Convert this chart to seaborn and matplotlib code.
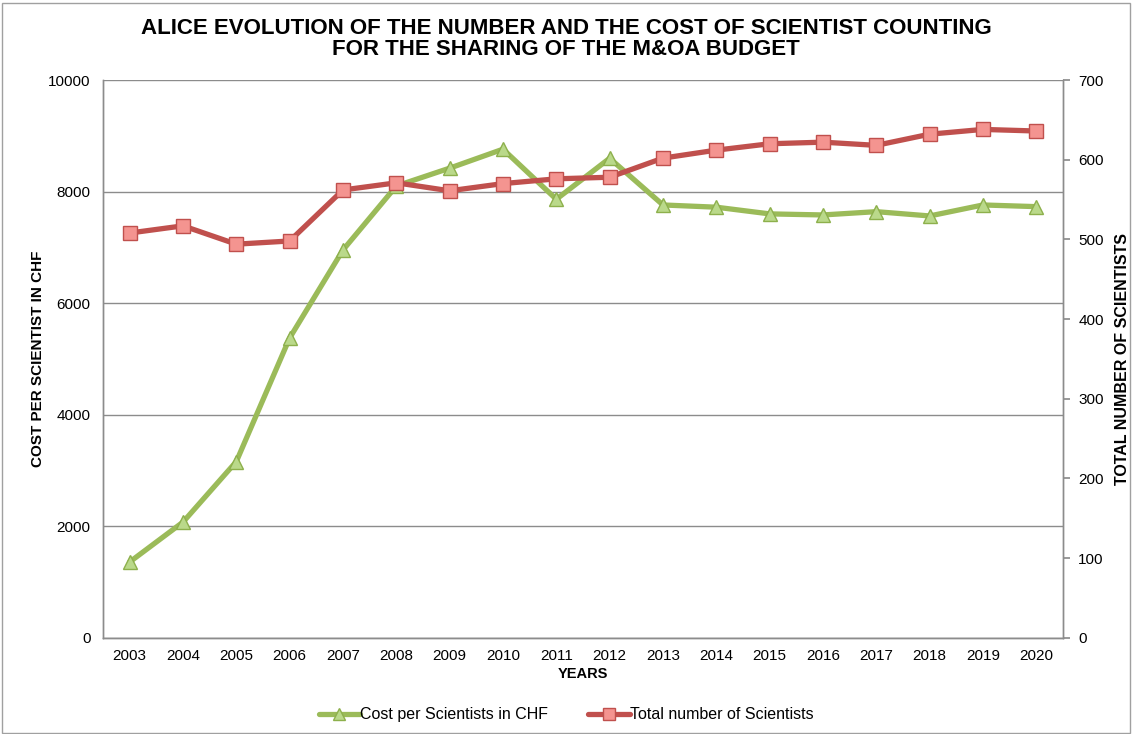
import pandas as pd
import matplotlib.pyplot as plt
import seaborn as sns
from matplotlib.patches import Rectangle

# Data
years = [str(y) for y in range(2003, 2021)]
cost_per_scientist = [1360, 2075, 3160, 5376, 6953, 8100, 8420, 8760, 7862, 8597,
                      7760, 7720, 7600, 7581, 7640, 7563, 7760, 7730]
total_scientists = [508, 517, 494, 498, 562, 571, 561, 570, 576, 578,
                    602, 612, 620, 622, 618, 632, 638, 636]

df = pd.DataFrame({'YEAR': years, 'COST': cost_per_scientist, 'N': total_scientists})

sns.set_theme(style="white")
plt.rcParams['font.family'] = ['Liberation Sans', 'DejaVu Sans']
plt.rcParams['text.color'] = 'black'
plt.rcParams['axes.labelcolor'] = 'black'

fig = plt.figure(figsize=(11.32, 7.34), dpi=100)
ax = fig.add_axes([0.091, 0.131, 0.848, 0.760])
ax2 = ax.twinx()

green = '#9BBB59'
red = '#C0504D'

sns.lineplot(data=df, x='YEAR', y='COST', ax=ax, color=green, linewidth=3.8,
             marker='^', markersize=10, markerfacecolor='#BAD98A',
             markeredgecolor='#8DB04C', markeredgewidth=1,
             label='Cost per Scientists in CHF', legend=False)
sns.lineplot(data=df, x='YEAR', y='N', ax=ax2, color=red, linewidth=3.8,
             marker='s', markersize=10, markerfacecolor='#F49490',
             markeredgecolor='#C0504D', markeredgewidth=1,
             label='Total number of Scientists', legend=False)

ax.set_xlim(-0.5, len(years) - 0.5)
ax.set_ylim(0, 10000)
ax2.set_ylim(0, 700)
ax.set_yticks(range(0, 10001, 2000))
ax2.set_yticks(range(0, 701, 100))

ax.yaxis.grid(True, color='#8C8C8C', linewidth=1)
ax.set_axisbelow(True)
for a in (ax, ax2):
    for s in a.spines.values():
        s.set_color('#8C8C8C')
        s.set_linewidth(1)
ax2.spines['top'].set_visible(False)
ax.spines['top'].set_visible(False)

ax.tick_params(axis='y', length=0, labelsize=11, pad=9, labelcolor='black')
ax.tick_params(axis='x', length=0, labelsize=11, pad=8, labelcolor='black')
ax2.tick_params(axis='y', length=5, direction='out', color='#8C8C8C',
                labelsize=11, pad=6, labelcolor='black')

ax.set_xlabel('YEARS', fontsize=10.5, fontweight='bold', labelpad=3)
ax.set_ylabel('COST PER SCIENTIST IN CHF', fontsize=11, fontweight='bold', labelpad=2)
ax2.set_ylabel('TOTAL NUMBER OF SCIENTISTS', fontsize=11.5, fontweight='bold', labelpad=8)

fig.suptitle('ALICE EVOLUTION OF THE NUMBER AND THE COST OF SCIENTIST COUNTING\n'
             'FOR THE SHARING OF THE M&OA BUDGET',
             fontsize=16, fontweight='bold', y=0.976, linespacing=1.0, color='black')

h1, l1 = ax.get_legend_handles_labels()
h2, l2 = ax2.get_legend_handles_labels()
fig.legend(h1 + h2, l1 + l2, loc='center', bbox_to_anchor=(0.5, 0.026), ncol=2,
           frameon=False, fontsize=11.5, handlelength=2.6, handletextpad=0.0,
           columnspacing=2.5, markerscale=0.8)

fig.patches.append(Rectangle((0.002, 0.002), 0.996, 0.994, transform=fig.transFigure,
                             fill=False, edgecolor='#A0A0A0', linewidth=1))

plt.savefig('out.png', dpi=100)
